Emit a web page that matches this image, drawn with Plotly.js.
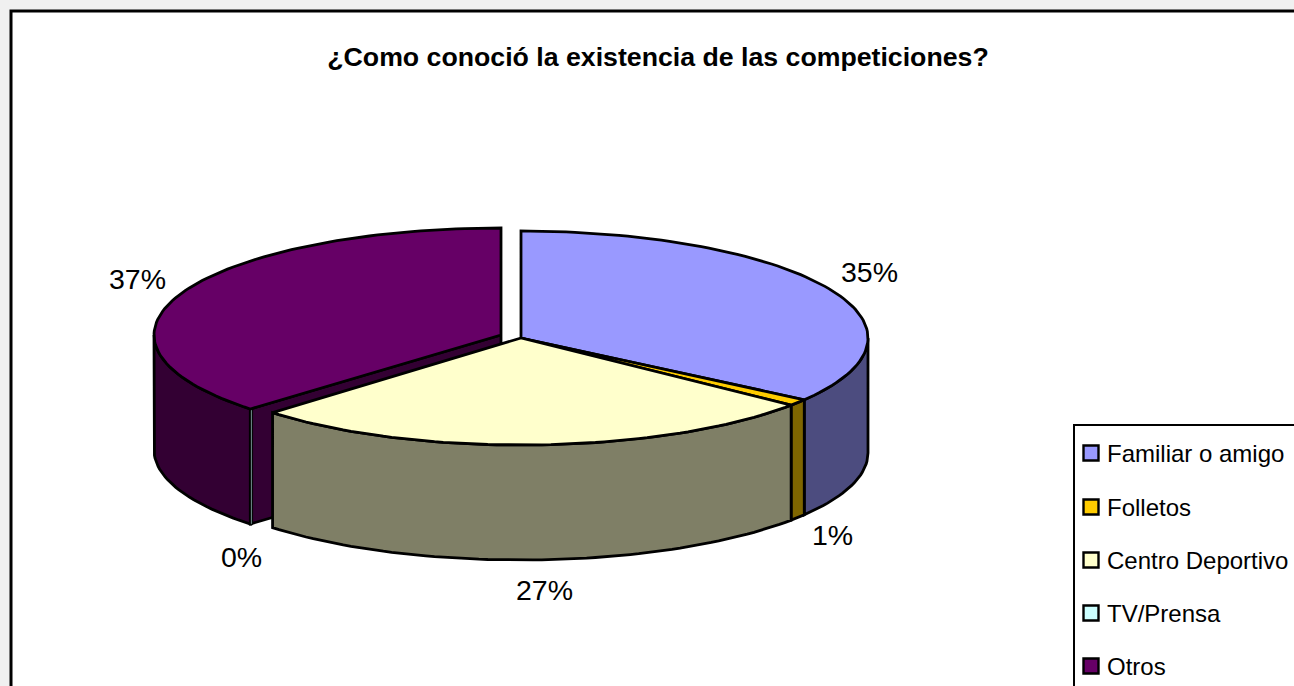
<!DOCTYPE html>
<html><head><meta charset="utf-8">
<script src="https://cdn.plot.ly/plotly-3.0.1.min.js"></script>
<style>html,body{margin:0;padding:0;background:#F0F0F0}#c{width:1294px;height:686px}</style>
</head><body><div id="c"></div>
<script>
const categories = ['Familiar o amigo','Folletos','Centro Deportivo','TV/Prensa','Otros'];
const values = [34.8, 1, 26.9, 0.15, 37.15];
const topColors = ['#9999FF','#FFCC00','#FFFFCC','#CCFFFF','#660066'];
const wallColors = ['#4C4C7F','#7F6600','#7F7F66','#667F7F','#330033'];

// projection of the tilted pie on the pixel-ranged hidden axes
const RX = 347, RY = 107, DEPTH = 115;
const centers = [[521,338],[521,338],[521,338],[501,335],[501,335]];
const labelPos = [[869,272],[832,535],[544,590],[241,557],[137,279]];
const legendY = [453,507,560,613,666];
const FONT = 'Liberation Sans, Arial, sans-serif';

function pt(c, deg, dz){
  const t = deg*Math.PI/180;
  return [c[0]+RX*Math.sin(t), c[1]-RY*Math.cos(t)+(dz||0)];
}
function arc(c, a0, a1, dz){
  const n = Math.max(2, Math.ceil(Math.abs(a1-a0)/1.5));
  const out = [];
  for(let i=0;i<=n;i++) out.push(pt(c, a0+(a1-a0)*i/n, dz));
  return out;
}
function poly(pts, fill, name, lw){
  return {type:'scatter', mode:'lines', x:pts.map(p=>p[0]), y:pts.map(p=>p[1]),
    fill:'toself', fillcolor:fill, line:{color:'#000', width:lw===undefined?2.8:lw},
    name:name, hoverinfo:'name', showlegend:false};
}
const total = values.reduce((a,b)=>a+b,0);
let acc = 0;
const slices = values.map((v,i)=>{
  const a0 = acc/total*360; acc += v; const a1 = acc/total*360;
  return {i, a0, a1, c:centers[i]};
});
const traces = [];
function outerWall(s, lw){
  const a0 = Math.max(s.a0,90), a1 = Math.min(s.a1,270);
  if(a1<=a0) return;
  const pts = arc(s.c,a0,a1,0).concat(arc(s.c,a1,a0,DEPTH));
  pts.push(pts[0]);
  traces.push(poly(pts, wallColors[s.i], categories[s.i]+' (lado)', lw));
}
function topFace(s, lw){
  const pts = [s.c].concat(arc(s.c,s.a0,s.a1,0)); pts.push(s.c);
  traces.push(poly(pts, topColors[s.i], categories[s.i], lw));
}
// back to front: exploded slice first, then the main body
const otros = slices[4], tv = slices[3];
const innerStart = pt(otros.c, otros.a0, 0);
const innerPts = [otros.c, innerStart, [innerStart[0],innerStart[1]+DEPTH], [otros.c[0],otros.c[1]+DEPTH], otros.c];
traces.push(poly(innerPts, wallColors[4], 'Otros (interior)'));
outerWall(otros);
outerWall(tv, 1);
topFace(tv, 1);
topFace(otros);
outerWall(slices[0]);
outerWall(slices[1]);
outerWall(slices[2]);
topFace(slices[0]);
topFace(slices[1]);
topFace(slices[2]);

// legend keys
categories.forEach((c,i)=>{
  traces.push({type:'scatter', mode:'markers', x:[1091], y:[legendY[i]],
    marker:{symbol:'square', size:15, color:topColors[i], line:{color:'#000', width:2.4}},
    name:c, hoverinfo:'name', showlegend:false});
});

const annotations = [];
values.forEach((v,i)=>{
  annotations.push({x:labelPos[i][0], y:labelPos[i][1], xref:'x', yref:'y', showarrow:false,
    text:Math.round(v/total*100)+'%', xanchor:'center', yanchor:'middle',
    font:{family:FONT, size:28.5, color:'#000'}});
});
categories.forEach((c,i)=>{
  annotations.push({x:1108, y:legendY[i], xref:'x', yref:'y', showarrow:false, text:c,
    xanchor:'left', yanchor:'middle', xshift:-3, font:{family:FONT, size:24, color:'#000'}});
});

const layout = {
  width:1294, height:686, margin:{l:0,r:0,t:0,b:0},
  paper_bgcolor:'#F0F0F0', plot_bgcolor:'#F0F0F0', showlegend:false,
  title:{text:'<b>¿Como conoció la existencia de las competiciones?</b>',
    x:658/1294, y:1-57/686, xanchor:'center', yanchor:'middle',
    font:{family:FONT, size:26.7, color:'#000'}},
  xaxis:{range:[0,1294], visible:false, fixedrange:true},
  yaxis:{range:[686,0], visible:false, fixedrange:true},
  shapes:[
    {type:'rect', xref:'x', yref:'y', x0:11, y0:11, x1:1320, y1:720, fillcolor:'#fff', line:{color:'#000', width:3}, layer:'below'},
    {type:'rect', xref:'x', yref:'y', x0:1074, y0:425, x1:1320, y1:720, fillcolor:'#fff', line:{color:'#000', width:2}, layer:'below'}
  ],
  annotations
};
Plotly.newPlot('c', traces, layout, {displayModeBar:false, staticPlot:true});
</script></body></html>
